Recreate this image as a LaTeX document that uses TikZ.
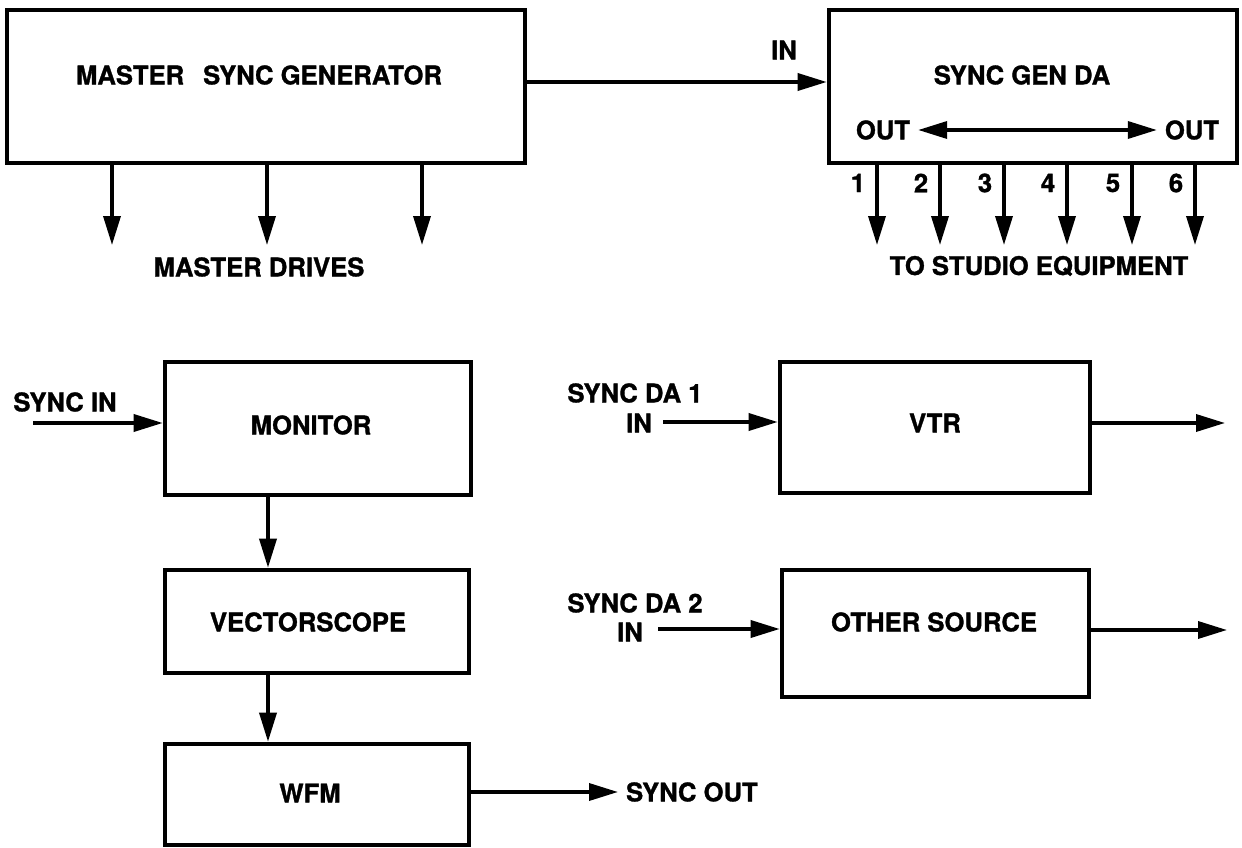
\documentclass[tikz,border=0pt]{standalone}
\usepackage{fontspec}
\setmainfont{TeX Gyre Heros}[BoldFeatures={FakeBold=1.2}]
\usetikzlibrary{arrows.meta,fit,calc}

\begin{document}
\begin{tikzpicture}[x=0.02cm, y=-0.02cm,
    blk/.style={draw, line width=2.6pt, rectangle, inner sep=0pt, fit={#1}},
    txt/.style={font=\fontsize{14.6}{17}\selectfont\bfseries, inner sep=1pt},
    arr/.style={line width=2pt, -{Triangle[length=0.58cm,width=0.34cm]}},
    darr/.style={line width=2pt, {Triangle[length=0.58cm,width=0.34cm]}-{Triangle[length=0.58cm,width=0.34cm]}}]
    \useasboundingbox (0,0) rectangle (1242,848);

    \begin{scope}[local bounding box=topBB]
        \node[blk={(7,10) (525,163)}] (msg) {};
        \node[txt] (msg-t) at (259,75) {MASTER\hspace{0.38cm}SYNC GENERATOR};
        \foreach \x [count=\i] in {112,267,422} {
            \coordinate (msg-d\i) at (\x,245);
            \draw[arr] (msg.south -| msg-d\i) -- (msg-d\i);
        }
        \node[txt] (msg-drv) at (259,267) {MASTER DRIVES};

        \node[blk={(829,10) (1237,163)}] (sgda) {};
        \node[txt] (sgda-t) at (1022,75) {SYNC GEN DA};
        \draw[arr] ([yshift=0.09cm]msg.east) -- ([yshift=0.09cm]sgda.west);
        \node[txt] (sgda-in) at (784,50) {IN};

        \node[txt] (sgda-outl) at (883,130) {OUT};
        \node[txt] (sgda-outr) at (1192,130) {OUT};
        \draw[darr, shorten <=0.12cm, shorten >=0.12cm] (sgda-outl.east) -- (sgda-outr.west);

        \foreach \x [count=\i] in {877,940,1004,1067,1132,1195} {
            \coordinate (sgda-o\i) at (\x,245);
            \draw[arr] (sgda.south -| sgda-o\i) -- (sgda-o\i);
            \node[txt] (sgda-n\i) at ($(sgda-o\i)+(-19,-62)$) {\i};
        }
        \node[txt] (sgda-eq) at (1039,266) {TO STUDIO EQUIPMENT};
    \end{scope}

    \begin{scope}[local bounding box=monBB]
        \node[blk={(165,362) (471,495)}] (mon) {};
        \node[txt] (mon-t) at (311,425) {MONITOR};
        \node[blk={(165,570) (469,673)}] (vec) {};
        \node[txt] (vec-t) at (308,622) {VECTORSCOPE};
        \node[blk={(165,744) (469,845)}] (wfm) {};
        \node[txt] (wfm-t) at (310,793) {WFM};

        \coordinate (mon-in) at (33,423);
        \draw[arr] (mon-in) -- (mon-in -| mon.west);
        \node[txt] (mon-in-l) at (65,402) {SYNC IN};

        \coordinate (mon-col) at (268,0);
        \draw[arr] (mon.south -| mon-col) -- (vec.north -| mon-col);
        \draw[arr] (vec.south -| mon-col) -- (wfm.north -| mon-col);

        \coordinate (wfm-out) at (618,792);
        \draw[arr] (wfm.east |- wfm-out) -- (wfm-out);
        \node[txt, right] (wfm-out-l) at ($(wfm-out)+(6,0)$) {SYNC OUT};
    \end{scope}

    \begin{scope}[local bounding box=srcBB]
        \node[blk={(780,362) (1090,493)}] (vtr) {};
        \node[txt] (vtr-t) at (935,423) {VTR};
        \coordinate (vtr-in) at (663,422);
        \draw[arr] (vtr-in) -- (vtr-in -| vtr.west);
        \node[txt] (vtr-in-l) at (639,423) {IN};
        \node[txt] (vtr-da) at (635,393) {SYNC DA 1};
        \coordinate (vtr-out) at (1225,423);
        \draw[arr] (vtr.east |- vtr-out) -- (vtr-out);

        \node[blk={(782,570) (1089,697)}] (oth) {};
        \node[txt] (oth-t) at (934,622) {OTHER SOURCE};
        \coordinate (oth-in) at (658,629);
        \draw[arr] (oth-in) -- (oth-in -| oth.west);
        \node[txt] (oth-in-l) at (630,632) {IN};
        \node[txt] (oth-da) at (635,603) {SYNC DA 2};
        \coordinate (oth-out) at (1227,630);
        \draw[arr] (oth.east |- oth-out) -- (oth-out);
    \end{scope}
\end{tikzpicture}
\end{document}
